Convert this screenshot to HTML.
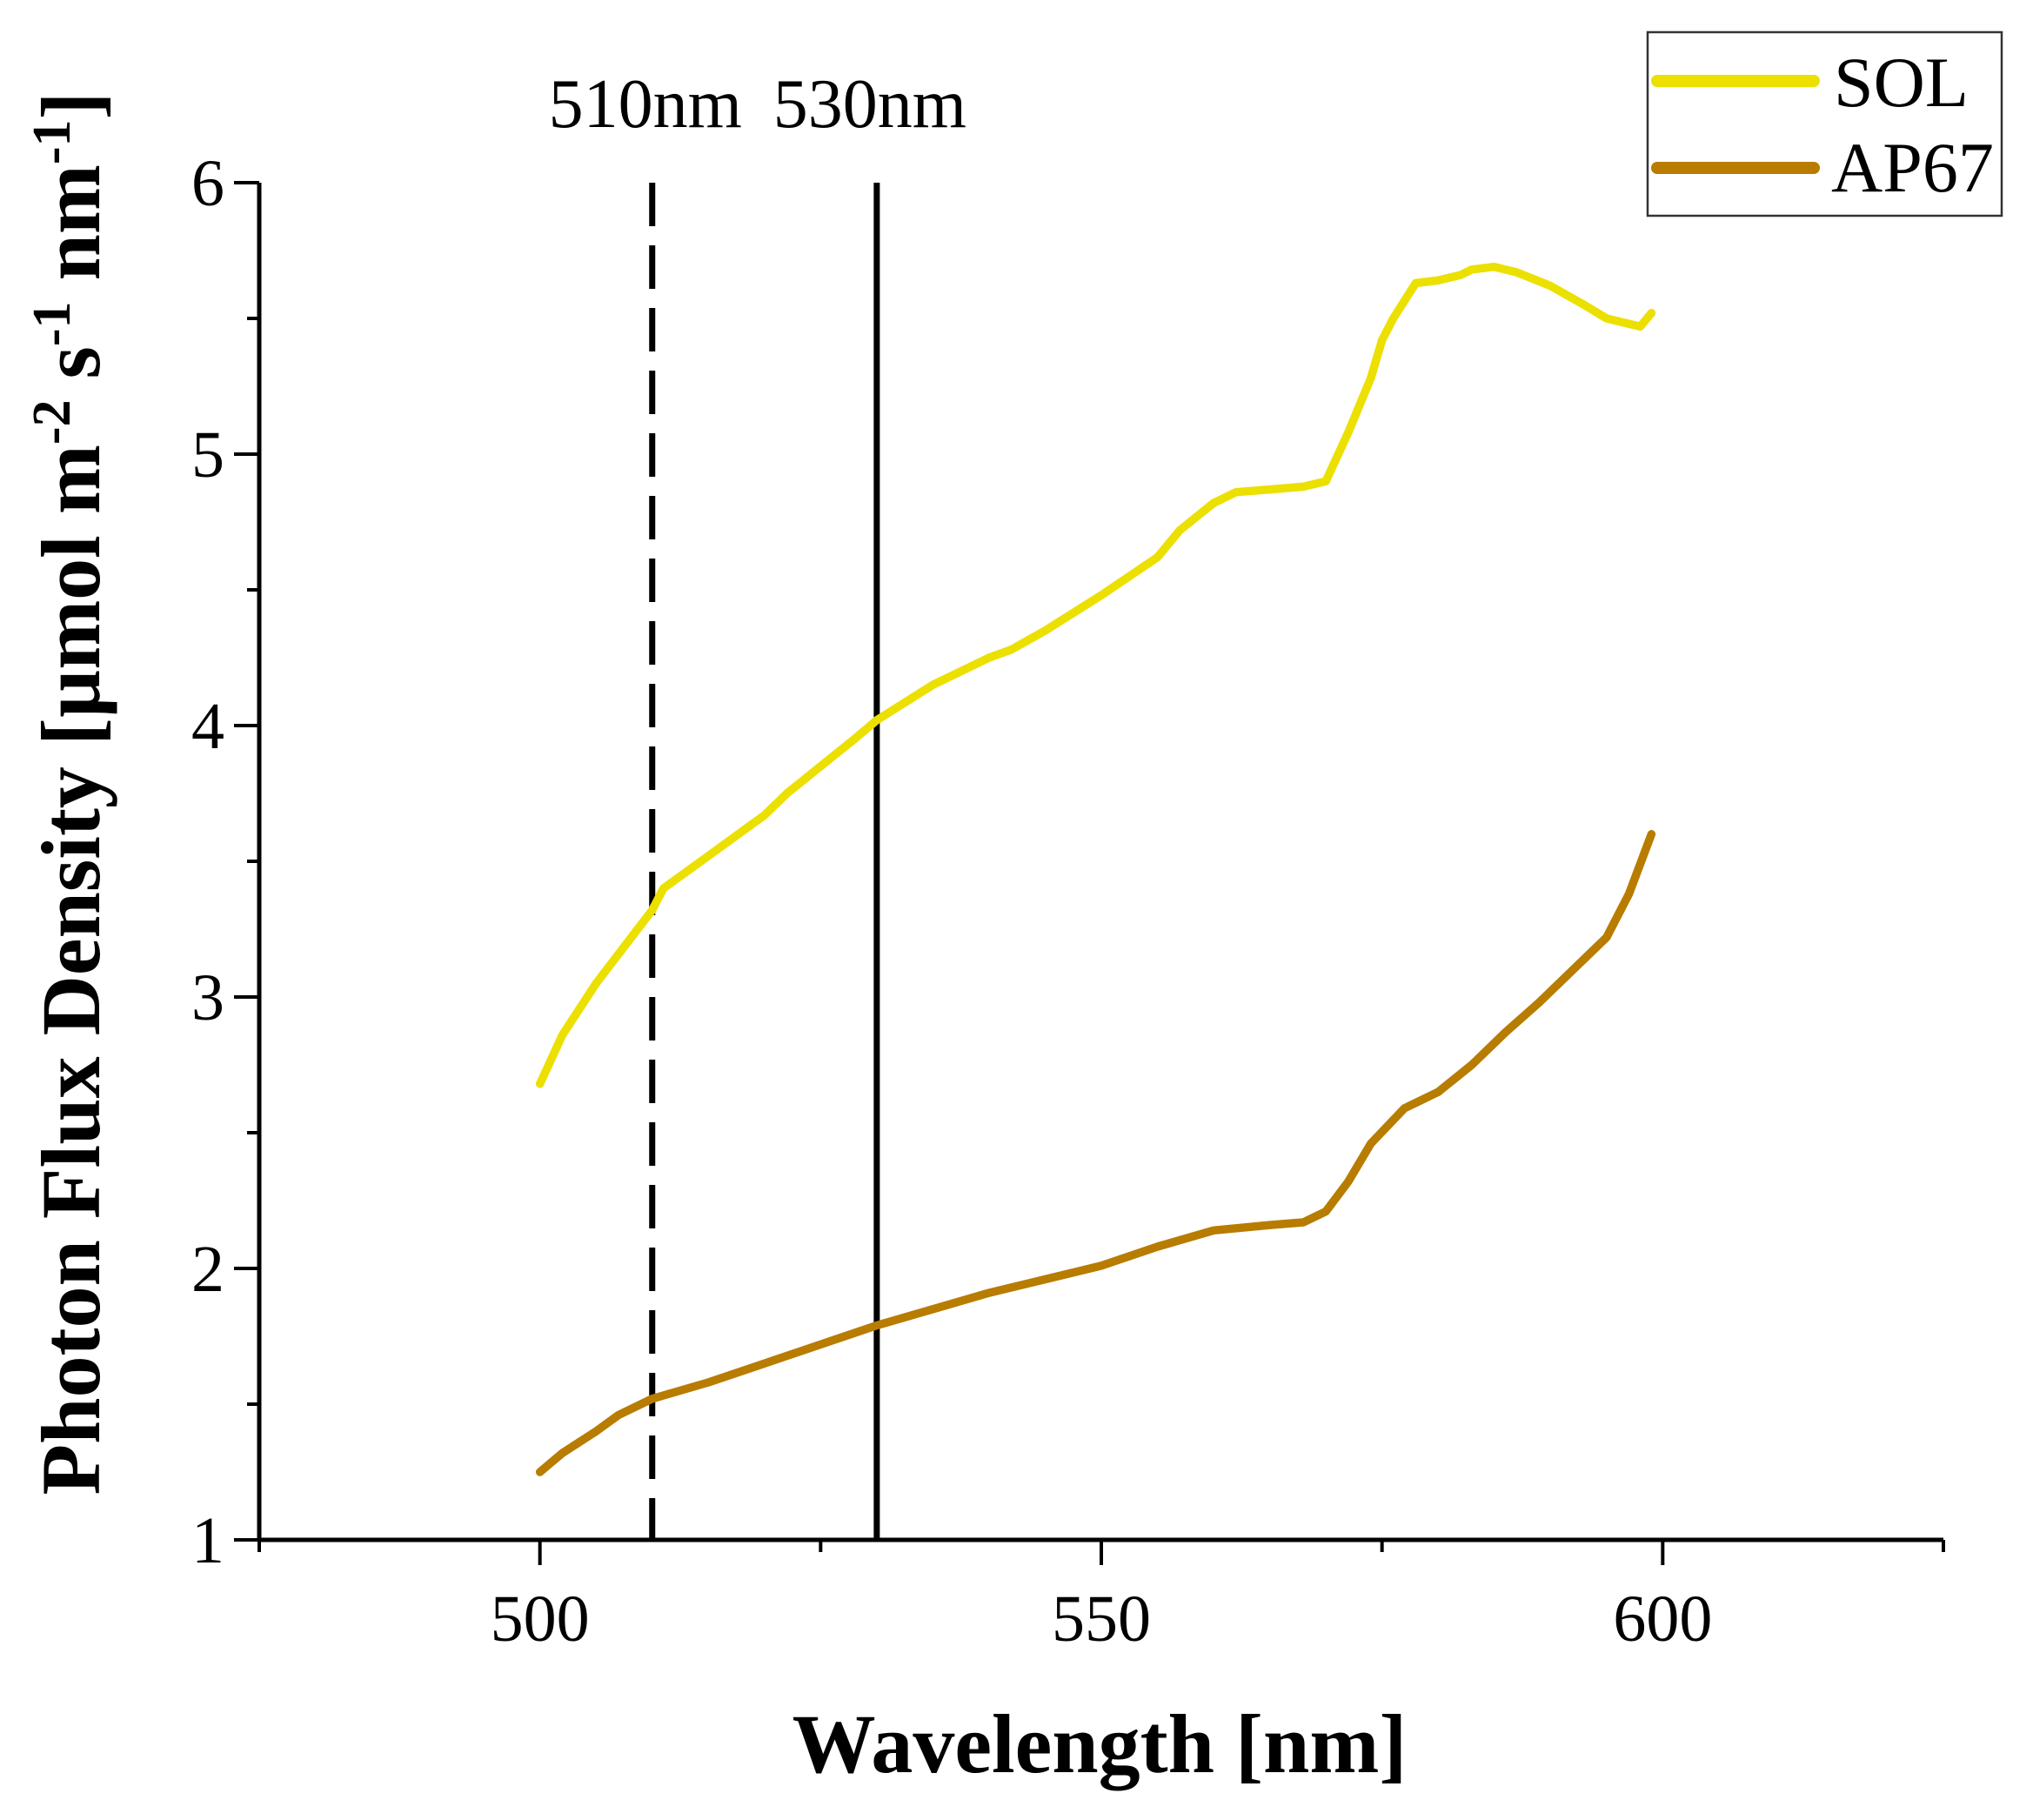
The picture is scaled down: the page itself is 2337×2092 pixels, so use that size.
<!DOCTYPE html>
<html><head><meta charset="utf-8"><style>
html,body{margin:0;padding:0;background:#fff}
svg{display:block;font-family:"Liberation Serif",serif}
</style></head><body>
<svg id="chart" width="2337" height="2092" viewBox="0 0 2337 2092" xmlns="http://www.w3.org/2000/svg">
<g id="axes"></g>
<g id="series"></g>
<g>
  <rect x="1894" y="37" width="407" height="211" fill="#fff" stroke="#333" stroke-width="2.5"/>
  <line x1="1905" y1="93" x2="2085" y2="93" stroke="#ebe000" stroke-width="14" stroke-linecap="round"/>
  <text x="2108" y="122" font-size="82">SOL</text>
  <line x1="1905" y1="193" x2="2085" y2="193" stroke="#b77c00" stroke-width="14" stroke-linecap="round"/>
  <text x="2105" y="220" font-size="82">AP67</text>
</g>
<text x="1264" y="2037" font-size="96" font-weight="bold" text-anchor="middle">Wavelength [nm]</text>
<text transform="translate(114,912) rotate(-90)" font-size="96" font-weight="bold" text-anchor="middle">Photon Flux Density [µmol m<tspan dy="-34" font-size="62">-2</tspan><tspan dy="34"> s</tspan><tspan dy="-34" font-size="62">-1</tspan><tspan dy="34"> nm</tspan><tspan dy="-34" font-size="62">-1</tspan><tspan dy="34">]</tspan></text>
</svg>
<script>
const solX=[500,502,505,510,511,515,520,522,525,528,530,535,540,542,545,550,555,557,560,562,565,568,570,572,574,575,576,578,580,582,583,585,587,590,593,595,597,598,599];
const solY=[2.68,2.86,3.05,3.32,3.4,3.52,3.67,3.75,3.85,3.95,4.02,4.15,4.25,4.28,4.35,4.48,4.62,4.72,4.82,4.86,4.87,4.88,4.9,5.08,5.28,5.42,5.5,5.63,5.64,5.66,5.68,5.69,5.67,5.62,5.55,5.5,5.48,5.47,5.52];
const apX=[500,502,505,507,510,515,520,525,530,535,540,545,550,555,560,565,568,570,572,574,577,580,583,586,589,592,595,597,599];
const apY=[1.25,1.32,1.40,1.46,1.52,1.58,1.65,1.72,1.79,1.85,1.91,1.96,2.01,2.08,2.14,2.16,2.17,2.21,2.32,2.46,2.59,2.65,2.75,2.87,2.98,3.1,3.22,3.38,3.6];
const xTicks=[500,550,600];
const xMinor=[475,525,575,625];
const yTicks=[1,2,3,4,5,6];
const yMinor=[1.5,2.5,3.5,4.5,5.5];
const refLines=[510,530];
const refLabels=["510nm","530nm"];
const NS="http://www.w3.org/2000/svg";
const L=298,R=2234,B=1770,T=210,X0=475,X1=625,Y0=1,Y1=6;
const sx=v=>L+(v-X0)/(X1-X0)*(R-L);
const sy=v=>B-(v-Y0)/(Y1-Y0)*(B-T);
function mk(tag,attrs,parent){const e=document.createElementNS(NS,tag);for(const k in attrs)e.setAttribute(k,attrs[k]);parent.appendChild(e);return e;}
const ax=document.getElementById('axes'),se=document.getElementById('series');
let e;
e=mk('line',{x1:L,y1:B,x2:R,y2:B,stroke:'#000','stroke-width':5},ax);


e=mk('line',{x1:L,y1:T,x2:L,y2:B,stroke:'#000','stroke-width':5},ax);


xTicks.forEach(v=>{
 e=mk('line',{x1:sx(v),y1:B,x2:sx(v),y2:B+29,stroke:'#000','stroke-width':4},ax);
 
 
 e=mk('text',{x:sx(v),y:B+116,'font-size':76,'text-anchor':'middle'},ax);e.textContent=v;
 
 
});
xMinor.forEach(v=>{
 e=mk('line',{x1:sx(v),y1:B,x2:sx(v),y2:B+14,stroke:'#000','stroke-width':4},ax);
 
 
});
yTicks.forEach(v=>{
 e=mk('line',{x1:L-29,y1:sy(v),x2:L,y2:sy(v),stroke:'#000','stroke-width':4},ax);
 
 
 e=mk('text',{x:L-40,y:sy(v)+26,'font-size':76,'text-anchor':'end'},ax);e.textContent=v;
 
 
});
yMinor.forEach(v=>{
 e=mk('line',{x1:L-14,y1:sy(v),x2:L,y2:sy(v),stroke:'#000','stroke-width':4},ax);
 
 
});
refLines.forEach((v,i)=>{
 e=mk('line',{x1:sx(v),y1:T,x2:sx(v),y2:B,stroke:'#000','stroke-width':7},se);
 if(i===0)e.setAttribute('stroke-dasharray','50 22');
 
 
 e=mk('text',{x:sx(v)-8,y:146,'font-size':80,'text-anchor':'middle'},se);e.textContent=refLabels[i];
 
 
});
function pts(xs,ys){return xs.map((x,i)=>sx(x).toFixed(1)+','+sy(ys[i]).toFixed(1)).join(' ');}
e=mk('polyline',{points:pts(solX,solY),fill:'none',stroke:'#ebe000','stroke-width':9.5,'stroke-linejoin':'round','stroke-linecap':'round'},se);


e=mk('polyline',{points:pts(apX,apY),fill:'none',stroke:'#b77c00','stroke-width':9.5,'stroke-linejoin':'round','stroke-linecap':'round'},se);


</script>
</body></html>
